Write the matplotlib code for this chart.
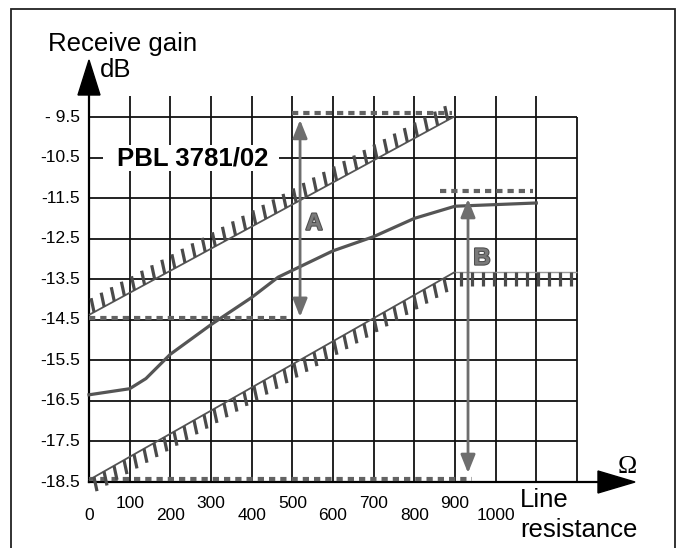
import matplotlib
matplotlib.use("Agg")
import numpy as np
import matplotlib.pyplot as plt
import matplotlib.patheffects as pe
from matplotlib.patches import Polygon, Rectangle
from matplotlib.collections import LineCollection

# ---------------- data ----------------
x_grid = [0, 100, 200, 300, 400, 500, 600, 700, 800, 900, 1000, 1100, 1200]
x_tick_vals = [0, 100, 200, 300, 400, 500, 600, 700, 800, 900, 1000]
x_tick_labels = ["0", "100", "200", "300", "400", "500", "600", "700", "800", "900", "1000"]
y_levels = [-9.5, -10.5, -11.5, -12.5, -13.5, -14.5, -15.5, -16.5, -17.5, -18.5]
y_labels = ["- 9.5", "-10.5", "-11.5", "-12.5", "-13.5", "-14.5", "-15.5", "-16.5", "-17.5", "-18.5"]

# typical receive gain curve
curve_r = [0, 100, 140, 200, 300, 400, 465, 600, 700, 800, 900, 1100]
curve_db = [-16.35, -16.2, -15.95, -15.35, -14.62, -13.95, -13.45, -12.8, -12.45, -12.0, -11.7, -11.62]

# hatched limit lines
upper_r = [0, 900]
upper_db = [-14.38, -9.48]
lower_r = [0, 900]
lower_db = [-18.45, -13.32]
lower_flat_r = [900, 1200]
lower_flat_db = [-13.32, -13.32]

# dotted reference levels (level, start, end)
dotted_levels = [-9.4, -14.45, -11.32, -18.42]
dotted_start = [500, 0, 863, 0]
dotted_end = [893, 490, 1092, 942]

# range arrows
arrow_labels = ["A", "B"]
arrow_r = [519, 932]
arrow_top = [-9.57, -11.52]
arrow_bottom = [-14.43, -18.28]
label_db = [-12.12, -12.98]

# ---------------- figure ----------------
W, H = 680, 548
fig = plt.figure(figsize=(W / 100, H / 100), dpi=100)
ax = fig.add_axes([0, 0, 1, 1])
ax.set_axis_off()

px_per_r = 488 / 1200.0
px_per_db = 365 / 9.0
x0_px, y0_px = 89, 482  # pixel position of (0, -18.5)
ax.set_xlim(-x0_px / px_per_r, (W - x0_px) / px_per_r)
ax.set_ylim(-18.5 - (H - y0_px) / px_per_db, -18.5 + y0_px / px_per_db)

def dx(px):
    return px / px_per_r

def dy(px):
    return px / px_per_db

font = "Liberation Sans"
dark = "#555555"
mid = "#6e6e6e"
grid_c = "#111111"

# frame
fig.patches.append(Rectangle((11 / W, -0.05), (675 - 11) / W, 1 - 9 / H + 0.05,
                             transform=fig.transFigure, fill=False,
                             edgecolor="#222222", lw=1.3))

ymax = y_levels[0]
ymin = y_levels[-1]
xmax = x_grid[-1]
top_ext = ymax + dy(21)

# horizontal grid lines
for yv in y_levels[:-1]:
    ax.plot([0, xmax], [yv, yv], color=grid_c, lw=1.3, zorder=1, solid_capstyle="butt")
# vertical grid lines
for xv in x_grid[1:-1]:
    ax.plot([xv, xv], [ymin, top_ext], color=grid_c, lw=1.3, zorder=1, solid_capstyle="butt")
ax.plot([xmax, xmax], [ymin, ymax], color=grid_c, lw=1.3, zorder=1, solid_capstyle="butt")

# axes with arrows
yarrow_base = ymax + dy(22)
yarrow_tip = ymax + dy(57)
ax.plot([0, 0], [ymin, yarrow_base], color="black", lw=1.6, zorder=2)
ax.add_patch(Polygon([[-dx(11), yarrow_base], [dx(11), yarrow_base], [0, yarrow_tip]],
                     closed=True, color="black", zorder=2))
xarrow_base = xmax + dx(21)
xarrow_tip = xmax + dx(58)
ax.plot([0, xarrow_base], [ymin, ymin], color="black", lw=1.6, zorder=2)
ax.add_patch(Polygon([[xarrow_base, ymin + dy(11)], [xarrow_base, ymin - dy(11)], [xarrow_tip, ymin]],
                     closed=True, color="black", zorder=2))

# white box behind product label
ax.add_patch(Rectangle((dx(14), -10.5 - dy(13)), dx(176), dy(26), facecolor="white",
                       edgecolor="none", zorder=2))
ax.text(dx(28), -10.53, "PBL 3781/02", fontsize=18.5, fontweight="bold", family=font,
        ha="left", va="center", zorder=5)

# dotted lines
for lv, s, e in zip(dotted_levels, dotted_start, dotted_end):
    ax.plot([s, e], [lv, lv], color="#636363", lw=3.0, linestyle=(0, (1.5, 1.2)),
            dash_capstyle="butt", zorder=3)

# main curve
ax.plot(curve_r, curve_db, color=dark, lw=2.3, zorder=4, solid_joinstyle="round")


def hatched(xs, ys, side, spacing_px=11.5, length_px=14, lean_px=-3.0, line_color=dark, line_lw=1.3):
    """Draw a line with short near-vertical hatch ticks (side=+1 above, -1 below)."""
    ax.plot(xs, ys, color=line_color, lw=line_lw, zorder=4, solid_capstyle="butt")
    x1, x2 = xs
    y1, y2 = ys
    lpx = np.hypot((x2 - x1) * px_per_r, (y2 - y1) * px_per_db)
    n = int(lpx // spacing_px)
    t = (np.arange(n) + 0.5) * spacing_px / lpx
    bx = x1 + (x2 - x1) * t
    by = y1 + (y2 - y1) * t
    segs = [[(a, b), (a + side * dx(lean_px), b + side * dy(length_px))] for a, b in zip(bx, by)]
    ax.add_collection(LineCollection(segs, colors="#4a4a4a", linewidths=2.3, zorder=4,
                                     capstyle="butt"))


hatched(upper_r, upper_db, +1)
hatched(lower_r, lower_db, -1)
hatched(lower_flat_r, lower_flat_db, -1, spacing_px=11, lean_px=0, line_color="#999999", line_lw=1.0)

# range arrows
for lab, r, t, b, ly in zip(arrow_labels, arrow_r, arrow_top, arrow_bottom, label_db):
    ax.annotate("", xy=(r, t), xytext=(r, b),
                arrowprops=dict(arrowstyle="<|-|>,head_length=0.55,head_width=0.22",
                                color=mid, lw=2.0, mutation_scale=20,
                                shrinkA=0, shrinkB=0), zorder=5)
    ax.text(r + dx(14), ly, lab, fontsize=17, fontweight="bold", family=font,
            color="#7a7a7a", ha="center", va="center", zorder=5,
            path_effects=[pe.withStroke(linewidth=1.5, foreground="#4d4d4d")])

# y tick labels
for yv, lab in zip(y_levels, y_labels):
    ax.text(-dx(9), yv, lab, fontsize=12.5, family=font, ha="right", va="center", zorder=5)

# x tick labels (staggered)
for i, (xv, lab) in enumerate(zip(x_tick_vals, x_tick_labels)):
    yy = ymin - dy(33) if i % 2 == 0 else ymin - dy(21)
    ax.text(xv, yy, lab, fontsize=12.5, family=font, ha="center", va="center", zorder=5)

# axis titles
ax.text(-dx(41), ymax + dy(73), "Receive gain", fontsize=18.5, family=font,
        ha="left", va="center")
ax.text(dx(11), ymax + dy(47), "dB", fontsize=18.5, family=font, ha="left", va="center")
ax.text(xmax - dx(57), ymin - dy(18), "Line", fontsize=18.5, family=font, ha="left", va="center")
ax.text(xmax - dx(57), ymin - dy(48), "resistance", fontsize=18.5, family=font,
        ha="left", va="center")
ax.text(xmax + dx(50), ymin + dy(15), "Ω", fontsize=18.5, family="Liberation Serif",
        ha="center", va="center")

fig.savefig("out.png", dpi=100)
